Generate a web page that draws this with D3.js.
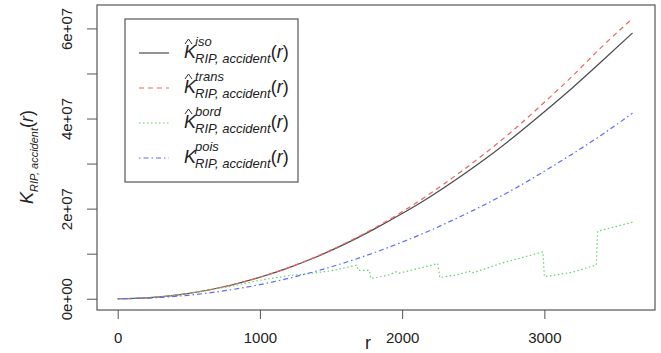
<!DOCTYPE html>
<html>
<head>
<meta charset="utf-8">
<script src="https://cdn.jsdelivr.net/npm/d3@7"></script>
<style>
  body { margin: 0; background: #fff; }
  svg text { font-family: "Liberation Sans", Arial, sans-serif; }
</style>
</head>
<body>
<svg id="chart" width="661" height="353"></svg>
<script>
// r values of the estimator curves
const rVals = [0, 200, 400, 600, 800, 1000, 1200, 1400, 1600, 1800, 2000, 2200, 2400, 2600, 2800, 3000, 3200, 3400, 3620];
const kIso   = [0, 1.9e5, 7.6e5, 1.71e6, 3.05e6, 4.77e6, 6.86e6, 9.33e6, 1.218e7, 1.54e7, 1.89e7, 2.27e7, 2.69e7, 3.14e7, 3.63e7, 4.15e7, 4.69e7, 5.26e7, 5.9e7];
const kTrans = [0, 1.9e5, 7.6e5, 1.71e6, 3.05e6, 4.78e6, 6.9e6, 9.4e6, 1.23e7, 1.56e7, 1.93e7, 2.34e7, 2.79e7, 3.27e7, 3.79e7, 4.36e7, 4.95e7, 5.58e7, 6.22e7];
const kPois  = [0, 1.26e5, 5.03e5, 1.13e6, 2.01e6, 3.14e6, 4.52e6, 6.16e6, 8.04e6, 1.018e7, 1.257e7, 1.52e7, 1.81e7, 2.12e7, 2.46e7, 2.83e7, 3.22e7, 3.63e7, 4.12e7];
// border-corrected estimate has its own jumps
const rBord = [0, 200, 400, 600, 800, 1000, 1200, 1400, 1500, 1600, 1680, 1690, 1770, 1780, 1900, 1960, 1980, 2100, 2250, 2265, 2400, 2470, 2490, 2700, 2990, 3000, 3200, 3365, 3375, 3500, 3620];
const kBord = [0, 1.9e5, 7.5e5, 1.65e6, 2.8e6, 4.1e6, 5.1e6, 5.8e6, 6.2e6, 6.9e6, 7.45e6, 6.3e6, 6.3e6, 4.5e6, 5.2e6, 6.0e6, 5.7e6, 6.6e6, 7.8e6, 4.7e6, 5.4e6, 6.1e6, 5.7e6, 7.9e6, 1.04e7, 4.9e6, 5.9e6, 7.5e6, 1.5e7, 1.6e7, 1.7e7];

const xTicks = [0, 1000, 2000, 3000];
const yTicks = [0, 1e7, 2e7, 3e7, 4e7, 5e7, 6e7];
const yLabels = ["0e+00", "", "2e+07", "", "4e+07", "", "6e+07"];
const legendSups = ["iso", "trans", "bord", "pois"];

const svg = d3.select("#chart");
const pLeft = 97, pRight = 655, pTop = 5, pBottom = 310;

const x = d3.scaleLinear().domain([-145.6, 3778]).range([pLeft, pRight]);
const y = d3.scaleLinear().domain([-2.5e6, 6.52e7]).range([pBottom, pTop]);

const series = [
  {r: rVals, k: kIso,   color: "#4a4a4a", dash: null},
  {r: rVals, k: kTrans, color: "#f26060", dash: "5,4"},
  {r: rBord, k: kBord,  color: "#66d066", dash: "1.5,2.5"},
  {r: rVals, k: kPois,  color: "#5b6cf2", dash: "1.5,3,5,3"}
];

const line = d3.line().x(d => x(d[0])).y(d => y(d[1])).curve(d3.curveMonotoneX);
const straight = d3.line().x(d => x(d[0])).y(d => y(d[1]));

series.forEach((s, i) => {
  const pts = s.r.map((r, j) => [r, s.k[j]]);
  svg.append("path")
    .attr("d", i === 2 ? straight(pts) : line(pts))
    .attr("fill", "none")
    .attr("stroke", s.color)
    .attr("stroke-width", 1.2)
    .attr("stroke-dasharray", s.dash);
});

// plot box
svg.append("rect")
  .attr("x", pLeft).attr("y", pTop)
  .attr("width", pRight - pLeft).attr("height", pBottom - pTop)
  .attr("fill", "none").attr("stroke", "#555").attr("stroke-width", 1.2);

// x axis
const xAxis = svg.append("g").attr("transform", `translate(0,${pBottom})`)
  .call(d3.axisBottom(x).tickValues(xTicks).tickSize(9).tickPadding(13).tickFormat(d3.format("d")));
xAxis.select(".domain").remove();
xAxis.selectAll("line").attr("stroke", "#555");
xAxis.selectAll("text").attr("font-size", 15).attr("fill", "#222");

// y axis
const yAxis = svg.append("g").attr("transform", `translate(${pLeft},0)`)
  .call(d3.axisLeft(y).tickValues(yTicks).tickSize(10).tickFormat((d, i) => yLabels[i]));
yAxis.select(".domain").remove();
yAxis.selectAll("line").attr("stroke", "#555");
yAxis.selectAll("text")
  .attr("font-size", 15).attr("fill", "#222")
  .attr("x", null).attr("dy", null)
  .attr("text-anchor", "middle")
  .attr("transform", "translate(-25,0) rotate(-90)");

// x label
svg.append("text").attr("x", 368).attr("y", 349).attr("text-anchor", "middle")
  .attr("font-size", 18).attr("fill", "#222").text("r");

// math label: K with optional hat, superscript and subscript
function kLabel(g, hat, sup, subSize) {
  const t = g.append("text").attr("fill", "#222");
  t.append("tspan").attr("font-size", 18).attr("font-style", "italic").text("K");
  if (hat) {
    g.append("path").attr("d", "M1,-14 L4.5,-19 L8,-14")
      .attr("fill", "none").attr("stroke", "#333").attr("stroke-width", 1);
  }
  if (sup) {
    const sp = t.append("tspan").attr("font-size", 13).attr("font-style", "italic")
      .attr("dy", -12).attr("dx", -1).text(sup);
    const sw = sp.node().getComputedTextLength();
    t.append("tspan").attr("font-size", subSize).attr("font-style", "italic").attr("dy", 17)
      .attr("dx", -sw).text("RIP, accident");
  } else {
    t.append("tspan").attr("font-size", subSize).attr("font-style", "italic").attr("dy", 5).text("RIP, accident");
  }
  t.append("tspan").attr("font-size", 18).attr("dy", -5).text("(");
  t.append("tspan").attr("font-size", 18).attr("font-style", "italic").text("r");
  t.append("tspan").attr("font-size", 18).text(")");
  return t;
}

// y label
const yl = svg.append("g").attr("transform", "translate(33,157) rotate(-90)");
const ylt = kLabel(yl, false, null, 11);
const yw = ylt.node().getComputedTextLength();
ylt.attr("x", -yw / 2);

// legend
const lg = svg.append("g");
lg.append("rect").attr("x", 125).attr("y", 19).attr("width", 173).attr("height", 163)
  .attr("fill", "#fff").attr("stroke", "#555").attr("stroke-width", 1.2);
legendSups.forEach((sup, i) => {
  const cy = 53 + i * 35;
  const s = series[i];
  lg.append("line").attr("x1", 139).attr("x2", 169).attr("y1", cy).attr("y2", cy)
    .attr("stroke", s.color).attr("stroke-width", 1.2).attr("stroke-dasharray", s.dash);
  const g = lg.append("g").attr("transform", `translate(184,${cy + 5})`);
  kLabel(g, i < 3, sup, 13);
});
</script>
</body>
</html>
